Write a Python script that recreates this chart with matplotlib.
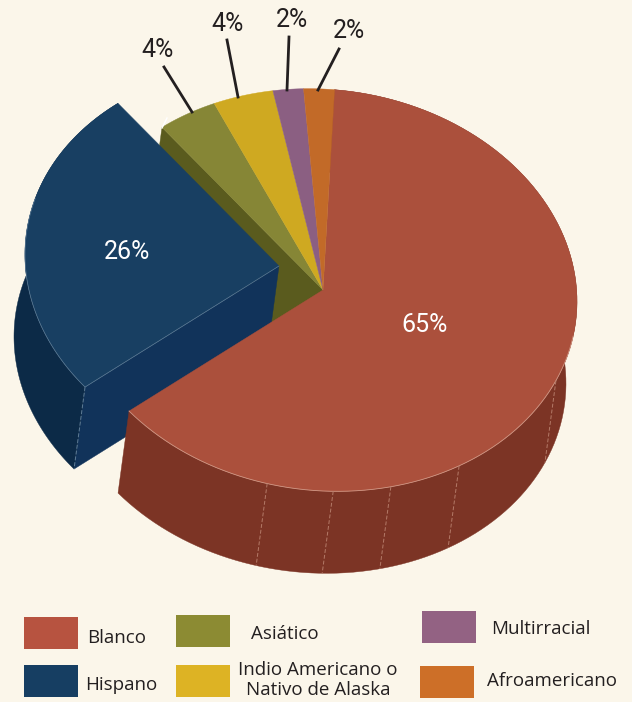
import numpy as np
import matplotlib
matplotlib.use("Agg")
import matplotlib.pyplot as plt
from matplotlib.patches import Polygon, Rectangle

categories = ["Blanco", "Hispano", "Asiático", "Indio Americano o\nNativo de Alaska", "Multirracial", "Afroamericano"]
values = [65, 26, 4, 4, 2, 2]
pct_labels = ["65%", "26%", "4%", "4%", "2%", "2%"]

BG = "#FBF6EA"
top_colors = ["#AB503C", "#183F62", "#868636", "#CFA921", "#8B5F82", "#C26A28"]
legend_colors = ["#B75340", "#163E62", "#8C8B33", "#DDB324", "#936283", "#CD6F28"]
legend_rects = [(24, 617), (24, 665), (176, 615), (176, 665), (422, 611), (420, 666)]
legend_text = [(87, 638), (85, 685), (285, 634), (318, 680), (541, 629), (552, 681)]

CX, CY = 323, 290
RX, RY = 254, 201
SLOPE = 0.045
DX, DY = -11, 82
START = 2.6
EXPLODE = (-44, -24)


def rim(theta, off=(0, 0)):
    # theta in degrees, clockwise from the top of the ellipse
    t = np.radians(theta)
    x = RX * np.sin(t)
    y = -RY * np.cos(t) + SLOPE * x
    return np.column_stack([CX + off[0] + x, CY + off[1] + y])


def fill(ax, pts, color, **kw):
    ax.add_patch(Polygon(pts, closed=True, facecolor=color, edgecolor=color, linewidth=0.3, **kw))


fig = plt.figure(figsize=(6.32, 7.02), dpi=100, facecolor=BG)
ax = fig.add_axes([0, 0, 1, 1])
ax.set_xlim(0, 632)
ax.set_ylim(702, 0)
ax.axis("off")

# slice angles come straight from the values
sweep = np.array(values) / sum(values) * 360
edges = START + np.concatenate([[0], np.cumsum(sweep)])
arcs = [np.linspace(edges[i], edges[i + 1], 120) for i in range(len(values))]
shift = np.array([DX, DY])
centre = np.array([[CX, CY]])
hub = centre + np.array(EXPLODE)

# dark cut face of the asian slice, seen through the gap
p = rim(edges[2])
fill(ax, np.vstack([centre, p, p + shift, centre + shift]), "#5A5B1E")

# exploded hispanic slice
h = rim(arcs[1], EXPLODE)
fill(ax, np.vstack([hub, h[:1], h[:1] + shift, hub + shift]), "#11335A")
fill(ax, np.vstack([h, (h + shift)[::-1]]), "#0C2A47")
fill(ax, np.vstack([hub, h]), top_colors[1])
ax.plot(*np.vstack([hub, h[:75]]).T, color="#5E7C96", lw=0.5)
ax.plot(*np.vstack([h[:1], h[:1] + shift]).T, color="#5E7C96", lw=0.7, ls=(0, (4, 2)))

# big slice
r = rim(arcs[0])
fill(ax, np.vstack([r, (r + shift)[::-1]]), "#7C3425")
fill(ax, np.vstack([centre, r]), top_colors[0])
ax.plot(*r[r[:, 1] > 330].T, color="#CF9684", lw=0.6)
for theta in [113.5, 147.6, 164.5, 177.7, 192.7]:
    q = rim(np.array([theta]))
    ax.plot(*np.vstack([q, q + shift]).T, color="#B47A68", lw=0.7, ls=(0, (4, 2)))

# small slices on top
for i in range(2, 6):
    fill(ax, np.vstack([centre, rim(arcs[i])]), top_colors[i])
ax.plot([162, 167], [128, 118], color="white", lw=1)

# leader lines and labels
leaders = [((164, 67), (192, 112)), ((227, 40), (238, 97)), ((289, 37), (287, 90)), ((339, 49), (318, 90))]
for a, b in leaders:
    ax.plot([a[0], b[0]], [a[1], b[1]], color="#231F20", lw=2)

label_pos = [(425, 325), (127, 252), (158, 50), (228, 24), (292, 20), (349, 31)]
for txt, (x, y), c in zip(pct_labels, label_pos, ["white", "white"] + ["#231F20"] * 4):
    ax.text(x, y, txt, color=c, fontsize=18, family="Roboto", ha="center", va="center")

# legend
for name, col, (x, y), (tx, ty) in zip(categories, legend_colors, legend_rects, legend_text):
    ax.add_patch(Rectangle((x, y), 54, 32, facecolor=col, edgecolor="none"))
    ax.text(tx, ty, name, color="#231F20", fontsize=13.5, family="Open Sans",
            ha="center" if tx > 200 else "left", va="center", linespacing=1.15)

fig.savefig("out.png", dpi=100, facecolor=BG)
